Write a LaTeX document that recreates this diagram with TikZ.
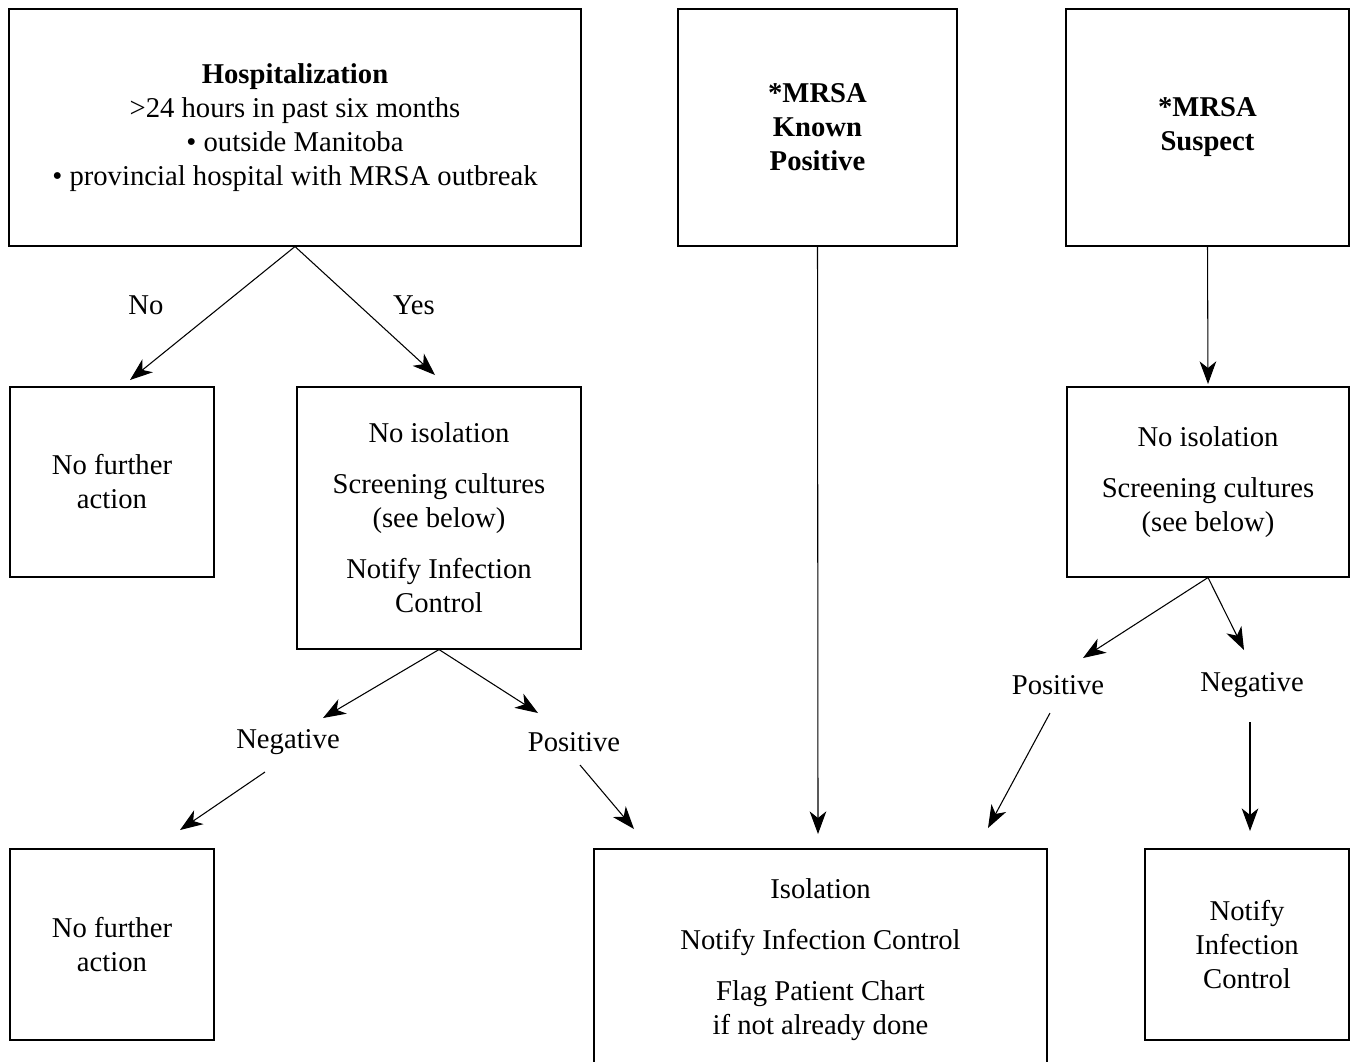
\documentclass[tikz,border=0pt]{standalone}
\usepackage{fontspec}
\setmainfont{Liberation Serif}
\usepackage{tikz}
\usetikzlibrary{arrows.meta}

\tikzset{
  flowbox/.style={draw, line width=0.8pt, inner sep=0pt, align=center,
    font=\fontsize{21.5}{25.5}\selectfont},
  flowlabel/.style={inner sep=1pt, font=\fontsize{21.5}{25.5}\selectfont},
  flowarrow/.style={line width=0.8pt, -{Stealth[length=17pt,width=12.5pt,inset=5pt]}}
}

\begin{document}
\begin{tikzpicture}[x=0.75pt,y=-0.75pt]
            \useasboundingbox (0,0) rectangle (1351,1061);
            % top row
            \node[flowbox, minimum width=429pt, minimum height=177.75pt] (hosp) at (295,127.5)
              {\textbf{Hospitalization}\\ >24 hours in past six months\\ \textbullet{} outside Manitoba\\ \textbullet{} provincial hospital with MRSA outbreak};
            \node[flowbox, minimum width=209.25pt, minimum height=177.75pt] (known) at (817.5,127.5)
              {\textbf{*MRSA}\\ \textbf{Known}\\ \textbf{Positive}};
            \node[flowbox, minimum width=212.25pt, minimum height=177.75pt] (suspect) at (1207.5,127.5)
              {\textbf{*MRSA}\\ \textbf{Suspect}};
            % middle row
            \node[flowbox, minimum width=153pt, minimum height=142.5pt] (nofurtherA) at (112,482)
              {No further\\ action};
            \node[flowbox, minimum width=213pt, minimum height=196.5pt] (noisoA) at (439,518)
              {No isolation\\[12.75pt] Screening cultures\\ (see below)\\[12.75pt] Notify Infection\\ Control};
            \node[flowbox, minimum width=211.5pt, minimum height=142.5pt] (noisoB) at (1208,482)
              {No isolation\\[12.75pt] Screening cultures\\ (see below)};
            % bottom row
            \node[flowbox, minimum width=153pt, minimum height=143.25pt] (nofurtherB) at (112,944.5)
              {No further\\ action};
            \node[flowbox, minimum width=339.75pt, minimum height=165.75pt] (isolation) at (820.5,959.5)
              {\raisebox{7pt}{\parbox{330pt}{\centering Isolation\\[12.75pt] Notify Infection Control\\[12.75pt] Flag Patient Chart\\ if not already done}}};
            \node[flowbox, minimum width=153pt, minimum height=143.25pt] (notify) at (1247,944.5)
              {Notify\\ Infection\\ Control};
            % labels
            \node[flowlabel] (lblNo) at (146,305) {No};
            \node[flowlabel] (lblYes) at (414,305) {Yes};
            \node[flowlabel] (lblNegA) at (288,742) {Negative};
            \node[flowlabel] (lblPosA) at (574,742) {Positive};
            \node[flowlabel] (lblPosB) at (1058,685) {Positive};
            \node[flowlabel] (lblNegB) at (1252,685) {Negative};
            % arrow ends
            \coordinate (endNo) at (130,380);
            \coordinate (endYes) at (435,375);
            \coordinate (endKnown) at (818,834);
            \coordinate (endSuspect) at (1208,384);
            \coordinate (endNegA) at (323,718);
            \coordinate (endPosA) at (538,713);
            \coordinate (startNegA) at (265,772);
            \coordinate (endNegAA) at (180,830);
            \coordinate (startPosA) at (580,765);
            \coordinate (endPosAA) at (634,829);
            \coordinate (endPosB) at (1083,658);
            \coordinate (endNegB) at (1244,650);
            \coordinate (startPosB) at (1050,713);
            \coordinate (endPosBB) at (988,828);
            \coordinate (startNegB) at (1250,722);
            \coordinate (endNegBB) at (1250,831);
            % connectors
            \draw[flowarrow] (hosp.south) -- (endNo);
            \draw[flowarrow] (hosp.south) -- (endYes);
            \draw[flowarrow] (known.south) -- (endKnown);
            \draw[flowarrow] (suspect.south) -- (endSuspect);
            \draw[flowarrow] (noisoA.south) -- (endNegA);
            \draw[flowarrow] (noisoA.south) -- (endPosA);
            \draw[flowarrow] (startNegA) -- (endNegAA);
            \draw[flowarrow] (startPosA) -- (endPosAA);
            \draw[flowarrow] (noisoB.south) -- (endPosB);
            \draw[flowarrow] (noisoB.south) -- (endNegB);
            \draw[flowarrow] (startPosB) -- (endPosBB);
            \draw[flowarrow] (startNegB) -- (endNegBB);
          \end{tikzpicture}
\end{document}
